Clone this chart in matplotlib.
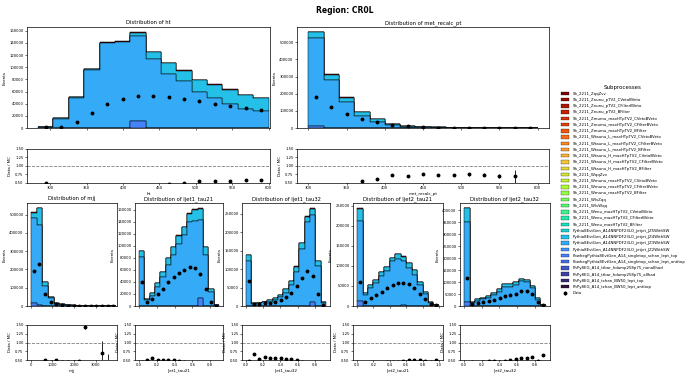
import matplotlib
matplotlib.use('Agg')
import matplotlib.pyplot as plt
import numpy as np
from matplotlib.patches import Patch
from matplotlib.ticker import MultipleLocator, FormatStrFormatter

# subprocess names as listed in the legend (stack colours follow this order)
process_names = [
    "Sh_2211_ZqqZvv",
    "Sh_2211_Znunu_pTV2_CVetoBVeto",
    "Sh_2211_Znunu_pTV2_CFilterBVeto",
    "Sh_2211_Znunu_pTV2_BFilter",
    "Sh_2211_Zmumu_maxHTpTV2_CVetoBVeto",
    "Sh_2211_Zmumu_maxHTpTV2_CFilterBVeto",
    "Sh_2211_Zmumu_maxHTpTV2_BFilter",
    "Sh_2211_Wtaunu_L_maxHTpTV2_CVetoBVeto",
    "Sh_2211_Wtaunu_L_maxHTpTV2_CFilterBVeto",
    "Sh_2211_Wtaunu_L_maxHTpTV2_BFilter",
    "Sh_2211_Wtaunu_H_maxHTpTV2_CVetoBVeto",
    "Sh_2211_Wtaunu_H_maxHTpTV2_CFilterBVeto",
    "Sh_2211_Wtaunu_H_maxHTpTV2_BFilter",
    "Sh_2211_WqqZvv",
    "Sh_2211_Wmunu_maxHTpTV2_CVetoBVeto",
    "Sh_2211_Wmunu_maxHTpTV2_CFilterBVeto",
    "Sh_2211_Wmunu_maxHTpTV2_BFilter",
    "Sh_2211_WlvZqq",
    "Sh_2211_WlvWqq",
    "Sh_2211_Wenu_maxHTpTV2_CVetoBVeto",
    "Sh_2211_Wenu_maxHTpTV2_CFilterBVeto",
    "Sh_2211_Wenu_maxHTpTV2_BFilter",
    "Pythia8EvtGen_A14NNPDF23LO_jetjet_JZ5WithSW",
    "Pythia8EvtGen_A14NNPDF23LO_jetjet_JZ4WithSW",
    "Pythia8EvtGen_A14NNPDF23LO_jetjet_JZ3WithSW",
    "Pythia8EvtGen_A14NNPDF23LO_jetjet_JZ2WithSW",
    "PowhegPythia8EvtGen_A14_singletop_schan_lept_top",
    "PowhegPythia8EvtGen_A14_singletop_schan_lept_antitop",
    "PhPy8EG_A14_ttbar_hdamp258p75_nonallhad",
    "PhPy8EG_A14_ttbar_hdamp258p75_allhad",
    "PhPy8EG_A14_tchan_BW50_lept_top",
    "PhPy8EG_A14_tchan_BW50_lept_antitop",
]

# visible layers, bottom -> top: single top, JZ3, JZ4, small V+jets
# ---- ht ----
ht_range = (283.3, 600.0)
ht_stop = [0, 0, 0, 0, 0, 0, 12000, 0, 0, 0, 0, 0, 0, 0, 0]
ht_jz3 = [1800, 15500, 49500, 96000, 139500, 141000, 139000, 113900, 89500, 77000, 59100, 48800, 39600, 30900, 28200]
ht_jz4 = [200, 700, 800, 1000, 1000, 1200, 5500, 11400, 16800, 17400, 20100, 22800, 23400, 23400, 21200]
ht_vjets = [0, 100, 100, 600, 500, 400, 1900, 500, 500, 500, 500, 500, 500, 500, 500]
ht_data = [1000, 2200, 10300, 24400, 39000, 47700, 52100, 52100, 51000, 47700, 43900, 40100, 35800, 32500, 29300]

# ---- met_recalc_pt ----
met_range = (300.0, 600.0)
met_stop = [13500, 0, 0, 0, 0, 0, 0, 0, 0, 0, 0, 0, 0, 0, 0]
met_jz3 = [509500, 282700, 151900, 71200, 32700, 15400, 7700, 3800, 1800, 900, 420, 200, 90, 10, 0]
met_jz4 = [36000, 28800, 24900, 22000, 20500, 7800, 5200, 2950, 1700, 850, 390, 190, 85, 10, 0]
met_vjets = [2500, 2000, 2000, 1000, 600, 200, 100, 50, 0, 0, 0, 0, 0, 0, 0]
met_data = [178800, 121200, 80800, 52750, 33900, 17300, 9100, 5170, 2590, 1295, 608, 289, 124, 14, 2]

# ---- mjj ----
mjj_range = (0.0, 3950.0)
mjj_stop = [14800, 3000, 0, 0, 0, 0, 0, 0, 0, 0, 0, 0, 0, 0, 0]
mjj_jz3 = [465200, 441000, 107000, 42400, 12900, 6000, 4000, 2000, 1000, 200, 80, 25, 5, 2, 0]
mjj_jz4 = [31500, 91000, 23500, 7200, 3600, 3200, 1500, 1000, 500, 100, 40, 15, 2, 1, 0]
mjj_vjets = [1500, 2000, 500, 200, 100, 0, 0, 0, 0, 0, 0, 0, 0, 0, 0]
mjj_data = [190000, 229000, 66400, 22100, 8300, 4000, 2500, 1300, 700, 435, 40, 12, 5, 1, 1]

# ---- ljet1_tau21 ----
l1t21_range = (0.0, 0.9)
l1t21_stop = [0, 0, 0, 0, 0, 0, 0, 0, 0, 0, 0, 12900, 0, 0, 0]
l1t21_jz3 = [81100, 10100, 17300, 32400, 48100, 67700, 84500, 103500, 118000, 139900, 141500, 130900, 85600, 23500, 1200]
l1t21_jz4 = [10700, 2000, 3700, 5200, 7900, 11700, 13300, 13700, 13100, 14100, 19000, 18200, 12100, 4200, 500]
l1t21_vjets = [500, 200, 300, 400, 500, 600, 700, 800, 900, 1000, 1200, 1400, 800, 300, 0]
l1t21_data = [40800, 6150, 11700, 19400, 28800, 40000, 48300, 54800, 59900, 64300, 63200, 53700, 28000, 6200, 700]

# ---- ljet1_tau32 ----
l1t32_range = (0.0, 0.93)
l1t32_stop = [0, 0, 0, 0, 0, 0, 0, 0, 0, 0, 0, 0, 11900, 0, 0]
l1t32_jz3 = [121800, 5800, 7300, 9700, 11900, 17400, 24700, 36600, 57700, 92500, 153900, 229000, 236100, 108000, 8000]
l1t32_jz4 = [15500, 1400, 1600, 2000, 3500, 3400, 5100, 8700, 10400, 14700, 17100, 13700, 16500, 13000, 1900]
l1t32_vjets = [1000, 100, 100, 200, 200, 300, 400, 500, 600, 800, 1200, 1800, 2000, 800, 100]
l1t32_data = [66900, 5000, 4700, 7100, 8700, 12000, 17200, 23800, 35700, 53100, 76000, 96200, 82400, 33900, 4000]

# ---- ljet2_tau21 ----
l2t21_range = (0.0, 1.0)
l2t21_stop = [12500, 0, 0, 0, 0, 0, 0, 0, 2500, 0, 0, 0, 0, 0, 0]
l2t21_jz3 = [198300, 27500, 44200, 56700, 75000, 88300, 110800, 116700, 108300, 94200, 77500, 52500, 29200, 8300, 1800]
l2t21_jz4 = [31900, 5500, 7900, 7800, 8600, 9300, 7600, 11600, 11600, 11700, 11800, 7800, 6300, 2400, 700]
l2t21_vjets = [1500, 300, 400, 500, 600, 700, 800, 900, 900, 800, 700, 500, 300, 100, 0]
l2t21_data = [60800, 10800, 19200, 27500, 35800, 44200, 52500, 58300, 58300, 53900, 45500, 30700, 17000, 4800, 1270]

# ---- ljet2_tau32 ----
l2t32_range = (0.0, 0.925)
l2t32_stop = [15400, 0, 0, 0, 0, 0, 0, 0, 0, 0, 0, 0, 0, 0, 0]
l2t32_jz3 = [335600, 11200, 22400, 28000, 35000, 46200, 60100, 79700, 81100, 88100, 104900, 99300, 74100, 23800, 2800]
l2t32_jz4 = [56800, 4100, 5400, 6700, 8000, 9200, 10600, 10500, 10500, 10400, 7500, 8900, 9100, 8100, 1400]
l2t32_vjets = [2000, 100, 200, 300, 400, 500, 600, 700, 700, 800, 900, 900, 700, 300, 0]
l2t32_data = [116100, 7000, 11200, 15400, 20600, 26500, 32000, 42000, 47100, 51600, 62300, 61100, 48700, 15100, 2730]

layer_idx = [26, 24, 23, 1]  # process index of each visible layer
colors = plt.cm.turbo_r(np.linspace(0, 1, len(process_names)))

W, H = 690, 376
fig = plt.figure(figsize=(6.9, 3.76), dpi=100)


def add_ax(x0, y0, x1, y1, **kw):
    return fig.add_axes([x0 / W, 1 - y1 / H, (x1 - x0) / W, (y1 - y0) / H], **kw)


# name, range, layers, data, main box, ratio box, y step, x step, xlim
panels = [
    ("ht", ht_range, [ht_stop, ht_jz3, ht_jz4, ht_vjets], ht_data,
     (27, 27, 270, 128), (27, 149, 270, 183), 20000, 50, (268, 602)),
    ("met_recalc_pt", met_range, [met_stop, met_jz3, met_jz4, met_vjets], met_data,
     (297, 27, 549, 128), (297, 149, 549, 183), 100000, 50, None),
    ("mjj", mjj_range, [mjj_stop, mjj_jz3, mjj_jz4, mjj_vjets], mjj_data,
     (27, 203, 117, 306), (27, 325, 117, 360), 100000, 1000, (-180, 3990)),
    ("ljet1_tau21", l1t21_range, [l1t21_stop, l1t21_jz3, l1t21_jz4, l1t21_vjets], l1t21_data,
     (135, 203, 223, 306), (135, 325, 223, 360), 20000, 0.2, None),
    ("ljet1_tau32", l1t32_range, [l1t32_stop, l1t32_jz3, l1t32_jz4, l1t32_vjets], l1t32_data,
     (242, 203, 330, 306), (242, 325, 330, 360), 50000, 0.2, None),
    ("ljet2_tau21", l2t21_range, [l2t21_stop, l2t21_jz3, l2t21_jz4, l2t21_vjets], l2t21_data,
     (353, 203, 443, 306), (353, 325, 443, 360), 50000, 0.2, None),
    ("ljet2_tau32", l2t32_range, [l2t32_stop, l2t32_jz3, l2t32_jz4, l2t32_vjets], l2t32_data,
     (460, 203, 550, 306), (460, 325, 550, 360), 50000, 0.2, None),
]

data_handle = None
for name, rng, layers, data, box, rbox, ystep, xstep, xlim in panels:
    layers = [np.array(l, dtype=float) for l in layers]
    data = np.array(data, dtype=float)
    edges = np.linspace(rng[0], rng[1], len(data) + 1)
    centers = 0.5 * (edges[1:] + edges[:-1])
    mc = np.sum(layers, axis=0)

    ax = add_ax(*box)
    ax.hist([centers] * len(layers), bins=edges, weights=layers, stacked=True,
            histtype='stepfilled', color=[colors[i] for i in layer_idx],
            edgecolor='black', linewidth=0.35)
    data_handle = ax.errorbar(centers, data, yerr=np.sqrt(data), fmt='o', color='black',
                              ms=1.8, elinewidth=0.6, capsize=0)
    ax.set_title(f"Distribution of {name}", fontsize=3.8, pad=2)
    ax.set_ylabel("Events", fontsize=3, labelpad=2)
    ax.yaxis.set_major_locator(MultipleLocator(ystep))
    ax.ticklabel_format(axis='y', style='plain', useOffset=False)
    ax.tick_params(labelsize=2.7, length=1.5, width=0.4, pad=1)
    ax.tick_params(axis='x', labelbottom=False)

    rax = add_ax(*rbox, sharex=ax)
    with np.errstate(divide='ignore', invalid='ignore'):
        ratio = np.where(mc > 0, data / mc, np.nan)
        rerr = np.where(mc > 0, np.sqrt(data) / mc, np.nan)
    rax.errorbar(centers, ratio, yerr=rerr, fmt='o', color='black', ms=1.8,
                 elinewidth=0.6, capsize=0)
    rax.axhline(1.0, color='grey', linestyle='--', linewidth=0.6)
    rax.set_ylim(0.5, 1.5)
    rax.yaxis.set_major_locator(MultipleLocator(0.25))
    rax.yaxis.set_major_formatter(FormatStrFormatter('%.2f'))
    rax.xaxis.set_major_locator(MultipleLocator(xstep))
    rax.set_xlabel(name, fontsize=3, labelpad=1)
    rax.set_ylabel("Data / MC", fontsize=3, labelpad=2)
    rax.tick_params(labelsize=2.7, length=1.5, width=0.4, pad=1)
    if xlim is not None:
        ax.set_xlim(*xlim)
    if xstep >= 1:
        rax.xaxis.set_major_formatter(FormatStrFormatter('%d'))

    for a in (ax, rax):
        for s in a.spines.values():
            s.set_linewidth(0.5)

fig.suptitle("Region: CR0L", fontsize=5.5, fontweight='bold', y=0.985)

handles = [Patch(facecolor=c, edgecolor='black', linewidth=0.2) for c in colors]
fig.legend(handles + [data_handle], process_names + ["Data"],
           loc='upper left', bbox_to_anchor=(559 / W, 1 - 83 / H),
           title="Subprocesses", title_fontsize=4, fontsize=2.75,
           frameon=False, labelspacing=0.58, handlelength=2.3, handleheight=1.0,
           handletextpad=0.8, borderaxespad=0)

fig.savefig("out.png", dpi=100)
